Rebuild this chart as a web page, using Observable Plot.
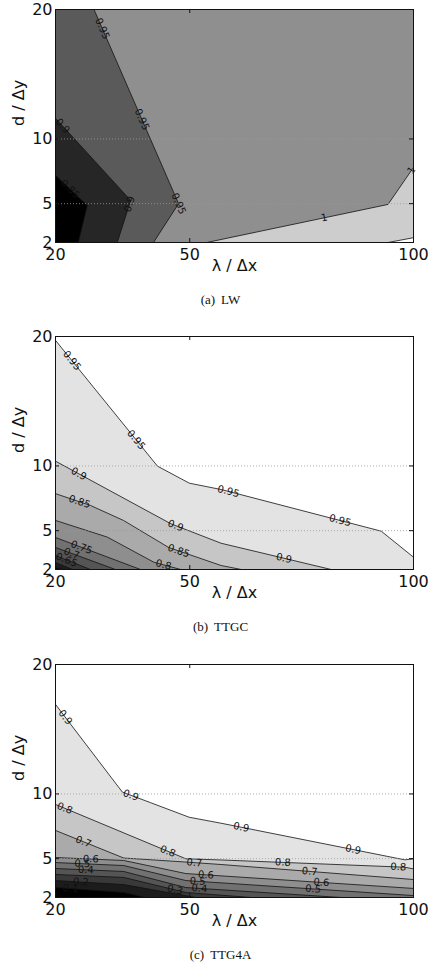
<!DOCTYPE html>
<html><head><meta charset="utf-8">
<script src="https://cdn.jsdelivr.net/npm/d3@7"></script>
<script src="https://cdn.jsdelivr.net/npm/@observablehq/plot@0.6"></script>
<style>
body{margin:0;background:#fff;}
#wrap{position:relative;width:441px;height:969px;overflow:hidden;background:#fff;}
.panel{position:absolute;left:0;}
.cap{position:absolute;left:0;width:441px;text-align:center;font-family:"Liberation Serif",serif;font-size:13px;line-height:14px;color:#111;}
.cap span+span{margin-left:6px;}
</style></head><body><div id="wrap"></div>
<script>
// ---- axes ----
const xTicks = [20, 50, 100];
const yTicks = [2, 5, 10, 20];
const gridY = [5, 10];
const xDomain = [20, 100];
const yDomain = [2, 20];

// ---- (a) LW ----
const lwLevels = [0.85, 0.9, 0.95, 1, 1.05];
const lw085 = [[20, 7.19], [27.1, 4.86], [25.1, 2]];
const lw090 = [[20, 11.6], [36.8, 5.25], [33.8, 2]];
const lw095 = [[28.6, 20], [47.5, 5], [41.9, 2]];
const lw100 = [[53.8, 2], [94.3, 4.94], [100, 7.8]];
const lw105 = [[94.3, 2], [100, 2.37]];
const lwClose = [["BR","TR","TL"], ["BR","TR","TL"], ["BR","TR"], ["BR"], ["BR"]];
const lwColors = ["#000000", "#262626", "#5a5a5a", "#8f8f8f", "#cdcdcd", "#ffffff"];
const lwLabels = [
  {level: 0.95, x: 29.6, y: 18.4}, {level: 0.95, x: 39.3, y: 11.5}, {level: 0.95, x: 48.2, y: 4.94},
  {level: 0.9, x: 21.3, y: 10.9}, {level: 0.9, x: 37.5, y: 4.86},
  {level: 0.85, x: 23.6, y: 6.26},
  {level: 1, x: 80.1, y: 3.86}, {level: 1, x: 99.6, y: 7.57}
];

// ---- (b) TTGC ----
const ttgcLevels = [0.55, 0.6, 0.65, 0.7, 0.75, 0.8, 0.85, 0.9, 0.95];
const ttgc055 = [[20, 2.15], [21.6, 2]];
const ttgc060 = [[20, 2.54], [23.8, 2]];
const ttgc065 = [[20, 3.08], [27.8, 2]];
const ttgc070 = [[20, 3.70], [33.4, 2]];
const ttgc075 = [[20, 4.47], [39.0, 2]];
const ttgc080 = [[20, 5.79], [31.6, 4.50], [42.0, 2.56], [48.0, 2]];
const ttgc085 = [[20, 7.86], [27.8, 6.95], [35.2, 5.79], [45.3, 3.70], [57.0, 2.31], [61.5, 2]];
const ttgc090 = [[20, 10.37], [45.8, 5.53], [57.0, 4.03], [81.6, 2]];
const ttgc095 = [[20, 19.70], [42.8, 9.98], [49.9, 8.67], [57.0, 8.18], [92.8, 4.96], [100, 2.95]];
const ttgcClose = [["BR","TR","TL"], ["BR","TR","TL"], ["BR","TR","TL"], ["BR","TR","TL"], ["BR","TR","TL"], ["BR","TR","TL"], ["BR","TR","TL"], ["BR","TR","TL"], ["TR","TL"]];
const greyColors = ["#000000", "#1c1c1c", "#393939", "#555555", "#717171", "#8e8e8e", "#aaaaaa", "#c6c6c6", "#e3e3e3", "#ffffff"];
const ttgcLabels = [
  {level: 0.95, x: 23.7, y: 18.15}, {level: 0.95, x: 38.3, y: 12.1}, {level: 0.95, x: 58.5, y: 7.85}, {level: 0.95, x: 83.5, y: 5.66},
  {level: 0.9, x: 24.9, y: 9.19}, {level: 0.9, x: 46.5, y: 5.09}, {level: 0.9, x: 71.0, y: 2.83},
  {level: 0.85, x: 24.9, y: 6.74}, {level: 0.85, x: 47.3, y: 3.21},
  {level: 0.8, x: 44.1, y: 2.31},
  {level: 0.75, x: 25.6, y: 3.52}, {level: 0.7, x: 23.4, y: 3.08}, {level: 0.65, x: 22.2, y: 2.54}
];

// ---- (c) TTG4A ----
const ttg4aLevels = [0.1, 0.2, 0.3, 0.4, 0.5, 0.6, 0.7, 0.8, 0.9];
const ttg4a01 = [[20, 2.77], [35.24, 2.39], [40.17, 2]];
const ttg4a02 = [[20, 3.31], [35.24, 3.00], [51.37, 2]];
const ttg4a03 = [[20, 3.78], [35.24, 3.55], [49.13, 2.39], [63.70, 2]];
const ttg4a04 = [[20, 4.24], [35.24, 4.01], [49.13, 2.77], [83.86, 2]];
const ttg4a05 = [[20, 4.70], [35.24, 4.47], [49.13, 3.31], [100, 2.15]];
const ttg4a06 = [[20, 5.09], [35.24, 4.86], [49.13, 3.85], [100, 2.70]];
const ttg4a07 = [[20, 7.18], [35.24, 5.05], [49.13, 4.74], [56.97, 4.55], [100, 3.39]];
const ttg4a08 = [[20, 9.19], [49.13, 4.99], [56.97, 4.90], [98.05, 4.34], [100, 4.21]];
const ttg4a09 = [[20, 16.92], [34.95, 10.14], [41.29, 9.32], [49.87, 8.20], [56.97, 7.74], [98.05, 4.91], [100, 4.99]];
const ttg4aClose = [["BR","TR","TL"], ["BR","TR","TL"], ["BR","TR","TL"], ["BR","TR","TL"], ["TR","TL"], ["TR","TL"], ["TR","TL"], ["TR","TL"], ["TR","TL"]];
const ttg4aLabels = [
  {level: 0.9, x: 22.24, y: 15.93}, {level: 0.9, x: 36.81, y: 9.88}, {level: 0.9, x: 61.46, y: 7.36}, {level: 0.9, x: 86.49, y: 5.68},
  {level: 0.8, x: 21.87, y: 8.72}, {level: 0.8, x: 45.03, y: 5.50}, {level: 0.8, x: 70.80, y: 4.60}, {level: 0.8, x: 96.57, y: 4.16},
  {level: 0.7, x: 26.2, y: 6.27}, {level: 0.7, x: 50.99, y: 4.34}, {level: 0.7, x: 76.77, y: 3.83},
  {level: 0.6, x: 27.84, y: 4.68}, {level: 0.6, x: 53.61, y: 3.70}, {level: 0.6, x: 79.38, y: 3.06},
  {level: 0.5, x: 25.98, y: 4.34}, {level: 0.5, x: 51.75, y: 3.18}, {level: 0.5, x: 77.52, y: 2.49},
  {level: 0.4, x: 26.72, y: 3.78}, {level: 0.4, x: 52.11, y: 2.54},
  {level: 0.3, x: 46.51, y: 2.29},
  {level: 0.2, x: 25.60, y: 2.93}, {level: 0.1, x: 23.36, y: 2.70}
];

// ---- layout ----
const W = 441, mL = 55, mR = 28, mT = 10, mB = 43, plotH = 233;
const H = mT + plotH + mB;
const fw = W - mL - mR, fh = plotH;
const kx = fw / (xDomain[1] - xDomain[0]);
const ky = fh / (yDomain[1] - yDomain[0]);
const corners = {BL: [xDomain[0], yDomain[0]], BR: [xDomain[1], yDomain[0]], TR: [xDomain[1], yDomain[1]], TL: [xDomain[0], yDomain[1]]};

function snapLabel(line, x, y) {
  let best = null, bd = Infinity;
  const px = x * kx, py = -y * ky;
  for (let i = 0; i < line.length - 1; i++) {
    const ax = line[i][0] * kx, ay = -line[i][1] * ky;
    const bx = line[i+1][0] * kx, by = -line[i+1][1] * ky;
    const dx = bx - ax, dy = by - ay;
    const t = Math.max(0, Math.min(1, ((px - ax) * dx + (py - ay) * dy) / (dx * dx + dy * dy)));
    const qx = ax + t * dx, qy = ay + t * dy;
    const d = Math.hypot(qx - px, qy - py);
    if (d < bd) { bd = d; best = {x: qx / kx, y: -qy / ky, dx, dy}; }
  }
  let a = Math.atan2(best.dy, best.dx) * 180 / Math.PI;
  if (a > 90) a -= 180;
  if (a < -90) a += 180;
  return {x: best.x, y: best.y, rotate: a};
}

function panel({levels, lines, closes, colors, labels}) {
  const marks = [Plot.frame({fill: colors[0], stroke: "none"})];
  levels.forEach((lv, i) => {
    const poly = lines[i].concat(closes[i].map(c => corners[c])).map(([x, y]) => ({x, y}));
    marks.push(Plot.line(poly, {x: "x", y: "y", fill: colors[i + 1], stroke: "none"}));
  });
  levels.forEach((lv, i) => {
    marks.push(Plot.line(lines[i].map(([x, y]) => ({x, y})), {x: "x", y: "y", stroke: "#111", strokeWidth: 0.8}));
  });
  marks.push(Plot.ruleY(gridY, {stroke: "#9a9a9a", strokeDasharray: "1,2", strokeWidth: 0.8}));
  const lab = labels.map(l => {
    const i = levels.indexOf(l.level);
    const s = snapLabel(lines[i], l.x, l.y);
    return {...s, text: String(l.level)};
  });
  marks.push(Plot.text(lab, {x: "x", y: "y", text: "text", rotate: "rotate", fontSize: 10, fill: "#111"}));
  marks.push(Plot.frame({stroke: "#111", strokeWidth: 1}));
  marks.push(Plot.tickY(yTicks, {y: d => d, insetRight: fw - 4, stroke: "#111"}));
  marks.push(Plot.tickY(yTicks, {y: d => d, insetLeft: fw - 4, stroke: "#111"}));
  marks.push(Plot.tickX(xTicks, {x: d => d, insetTop: fh - 4, stroke: "#111"}));
  marks.push(Plot.tickX(xTicks, {x: d => d, insetBottom: fh - 4, stroke: "#111"}));
  marks.push(Plot.text(["λ / Δx"], {frameAnchor: "bottom", dy: 28, text: d => d, fontSize: 16, fill: "#111"}));
  marks.push(Plot.text(["d / Δy"], {frameAnchor: "left", dx: -36.5, rotate: -90, text: d => d, fontSize: 16, fill: "#111"}));
  return Plot.plot({
    width: W, height: H, marginLeft: mL, marginRight: mR, marginTop: mT, marginBottom: mB,
    style: {fontFamily: "DejaVu Sans", fontSize: "16px", background: "transparent", color: "#111", overflow: "visible"},
    x: {domain: xDomain, ticks: xTicks, tickSize: 0, tickPadding: 6, label: null, tickFormat: d => String(d)},
    y: {domain: yDomain, ticks: yTicks, tickSize: 0, tickPadding: 3, label: null, tickFormat: d => String(d)},
    marks
  });
}

const wrap = document.getElementById("wrap");
const panels = [
  {top: -1, cap: ["(a)", "LW"], capY: 300, spec: {levels: lwLevels, lines: [lw085, lw090, lw095, lw100, lw105], closes: lwClose, colors: lwColors, labels: lwLabels}},
  {top: 326, cap: ["(b)", "TTGC"], capY: 627, spec: {levels: ttgcLevels, lines: [ttgc055, ttgc060, ttgc065, ttgc070, ttgc075, ttgc080, ttgc085, ttgc090, ttgc095], closes: ttgcClose, colors: greyColors, labels: ttgcLabels}},
  {top: 654, cap: ["(c)", "TTG4A"], capY: 955, spec: {levels: ttg4aLevels, lines: [ttg4a01, ttg4a02, ttg4a03, ttg4a04, ttg4a05, ttg4a06, ttg4a07, ttg4a08, ttg4a09], closes: ttg4aClose, colors: greyColors, labels: ttg4aLabels}}
];
for (const p of panels) {
  const d = document.createElement("div");
  d.className = "panel";
  d.style.top = p.top + "px";
  d.appendChild(panel(p.spec));
  wrap.appendChild(d);
  const c = document.createElement("div");
  c.className = "cap";
  c.style.top = (p.capY - 7) + "px";
  c.innerHTML = `<span>${p.cap[0]}</span><span>${p.cap[1]}</span>`;
  wrap.appendChild(c);
}
</script></body></html>
